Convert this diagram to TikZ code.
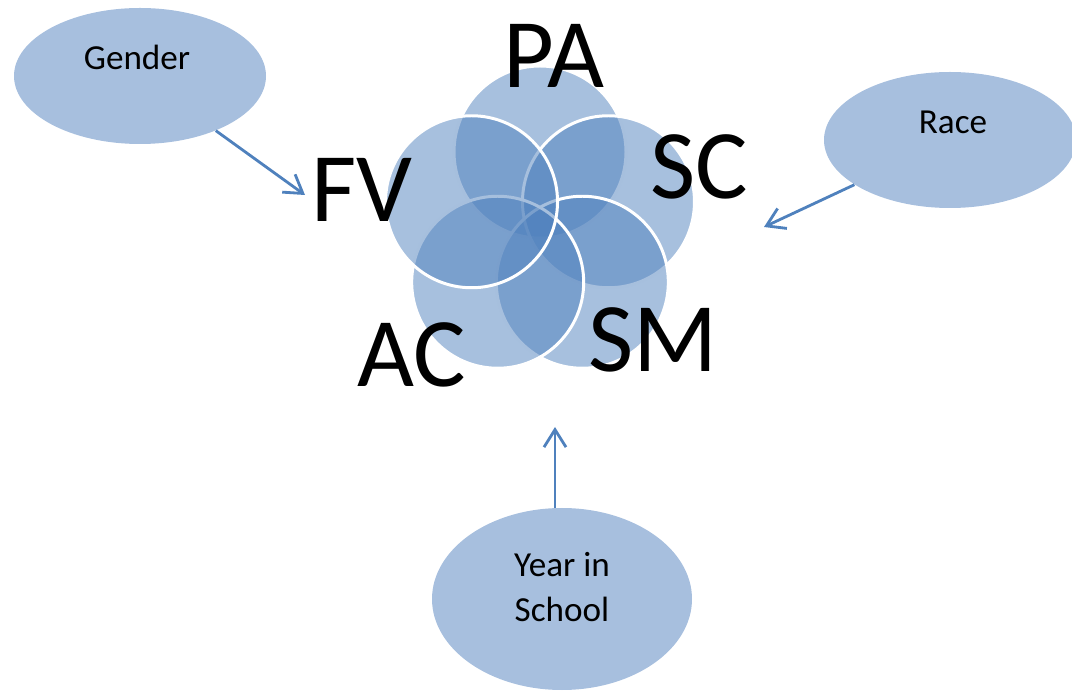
\documentclass[tikz,border=0pt]{standalone}
\usepackage{fontspec}
\setmainfont{Carlito}
\usepackage{tikz}
\usetikzlibrary{shapes,arrows.meta,positioning}
\definecolor{vennblue}{HTML}{4F81BD}
\definecolor{ovalblue}{HTML}{A7BFDE}

\begin{document}
\begin{tikzpicture}[
    venn/.style={circle, fill=vennblue, fill opacity=0.5, draw=white, line width=1.7pt, minimum size=3.44cm, inner sep=0pt},
    oval/.style={ellipse, fill=ovalblue, minimum width=5.04cm, minimum height=2.72cm, inner sep=0pt},
    biglabel/.style={font=\fontsize{56}{60}\selectfont, anchor=base, inner sep=0pt},
    smalllabel/.style={font=\fontsize{20}{26}\selectfont, anchor=base, inner sep=0pt, align=center},
    link/.style={draw=vennblue, line width=1.6pt, -{Straight Barb[length=3.5mm, width=4.4mm]}}
]
\useasboundingbox (0,0) rectangle (21.44,13.82);

\coordinate (hub) at (10.80,9.34);
\foreach \ang/\name in {90/pa, 18/sc, 306/sm, 234/ac, 162/fv}
    \node[venn] (\name) at ([shift={(\ang:1.44)}]hub) {};

\node[biglabel] (palabel) at (11.08,12.06) {PA};
\node[biglabel] (fvlabel) at (7.24,9.38) {FV};
\node[biglabel] (sclabel) at (13.98,9.84) {SC};
\node[biglabel] (aclabel) at (8.24,6.08) {AC};
\node[biglabel] (smlabel) at (13.06,6.38) {SM};

\node[oval] (gender) at (2.80,12.30) {};
\node[oval] (race) at (19.00,11.02) {};
\node[oval, minimum width=5.2cm, minimum height=3.64cm] (year) at (11.24,1.84) {};

\node[smalllabel] (gendertext) at (2.74,12.42) {Gender};
\node[smalllabel] (racetext) at (19.06,11.14) {Race};
\node[smalllabel] (yeartext) at (11.24,1.38) {Year in\\School};

\coordinate (gendertip) at (6.10,9.92);
\coordinate (racetip) at (15.28,9.28);
\coordinate (yeartip) at (11.10,5.28);
\draw[link] (gender) -- (gendertip);
\draw[link] (race) -- (racetip);
\draw[link] (yeartip |- year.north) -- (yeartip);

\end{tikzpicture}
\end{document}
